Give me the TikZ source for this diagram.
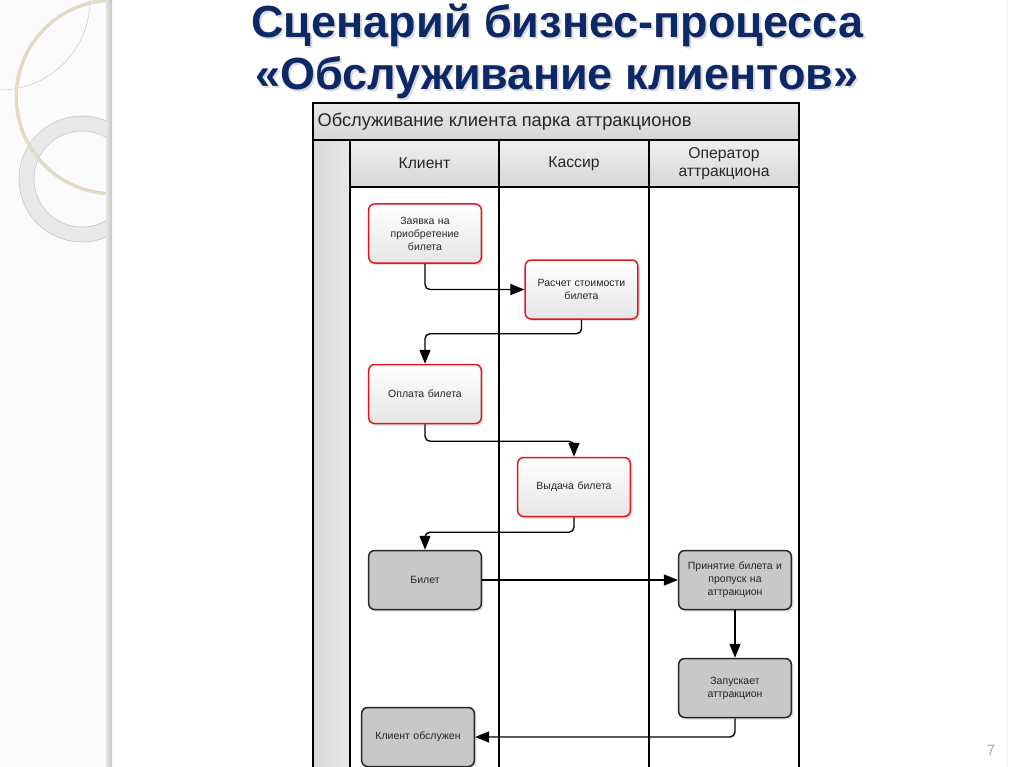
\documentclass[tikz,border=0pt]{standalone}
\usepackage{fontspec}
\setmainfont{Liberation Sans}
\usetikzlibrary{arrows.meta,shadows}
\definecolor{titleblue}{HTML}{0D2866}
\definecolor{boxred}{HTML}{E3161E}
\definecolor{beige}{HTML}{E6DCC2}
\definecolor{graybox}{HTML}{C8C8C8}
\begin{document}
\begin{tikzpicture}[x=1pt,y=-1pt,
  basebox/.style={rounded corners=6pt, line width=1.5pt, minimum width=112pt, minimum height=59pt,
    align=center, text width=106pt, font=\fontsize{10.5}{13}\selectfont, text=black!85,
    drop shadow={shadow xshift=2pt, shadow yshift=-2pt, opacity=0.25}},
  redbox/.style={basebox, draw=boxred, top color=white, bottom color=gray!20},
  grbox/.style={basebox, draw=black!85, fill=graybox},
  flow/.style={line width=1.4pt, rounded corners=5pt, -{Triangle[length=14pt,width=11pt]}},
  lane/.style={line width=1.4pt},
  hdr/.style={font=\fontsize{15.7}{18}\selectfont, text=black!85, align=center},
  ttl/.style={font=\fontsize{45}{52}\bfseries\selectfont, anchor=base}
]
\useasboundingbox (0,0) rectangle (1024,767);
\clip (0,0) rectangle (1024,767);
\fill[white] (0,0) rectangle (1024,767);
% left decoration
\begin{scope}
\clip (0,0) rectangle (108,767);
\fill[gray!3] (0,0) rectangle (108,767);
\draw[beige!80!gray, line width=0.5pt] (0,0) circle[radius=90];
\fill[gray!18, even odd rule] (82,179) circle[radius=63] (82,179) circle[radius=48];
\draw[gray!45, line width=0.6pt] (82,179) circle[radius=63] (82,179) circle[radius=48];
\draw[beige, line width=3pt] (113,97) circle[radius=97];
\draw[gray!40, line width=0.5pt] (113,97) circle[radius=95.5];
\end{scope}
\shade[left color=gray!20, right color=gray!45] (106,0) rectangle (112,767);
\draw[gray!12, line width=0.6pt] (1007,0) -- (1007,767);
% title
\node[ttl, text=gray!55, opacity=0.5] at (559.5,39.5) {Сценарий бизнес-процесса};
\node[ttl, text=gray!55, opacity=0.5] at (559,91.5) {«Обслуживание клиентов»};
\node[ttl, text=titleblue] (t1) at (557.5,37.5) {Сценарий бизнес-процесса};
\node[ttl, text=titleblue] (t2) at (557,89.5) {«Обслуживание клиентов»};
\node[text=gray!70, font=\fontsize{15}{16}\selectfont] (pg) at (991,750) {7};
% pool
\shade[top color=gray!18, bottom color=gray!32] (313,103) rectangle (799,140);
\shade[left color=gray!32, right color=gray!18] (313,140) rectangle (350,767);
\shade[top color=gray!12, bottom color=gray!32] (350,140) rectangle (799,187);
\draw[lane] (313,767) -- (313,103) -- (799,103) -- (799,767);
\draw[lane] (313,140) -- (799,140);
\draw[lane] (350,187) -- (799,187);
\draw[lane] (350,140) -- (350,767);
\draw[lane] (499,140) -- (499,767);
\draw[lane] (649,140) -- (649,767);
\node[hdr, anchor=west, font=\fontsize{18.3}{20}\selectfont] (pool) at (314,121.5) {Обслуживание клиента парка аттракционов};
\node[hdr] (h1) at (424.5,163.5) {Клиент};
\node[hdr] (h2) at (574,163.5) {Кассир};
\node[hdr] (h3) at (724,163.5) {Оператор\\аттракциона};
% boxes
\node[redbox] (n1) at (425,233.5) {Заявка на\\приобретение\\билета};
\node[redbox] (n2) at (581.5,289.5) {Расчет стоимости\\билета};
\node[redbox] (n3) at (425,394) {Оплата билета};
\node[redbox] (n4) at (574,487) {Выдача билета};
\node[grbox] (n5) at (425,580) {Билет};
\node[grbox] (n6) at (735,580) {Принятие билета и\\пропуск на\\аттракцион};
\node[grbox] (n7) at (735,688) {Запускает\\аттракцион};
\node[grbox] (n8) at (418,737) {Клиент обслужен};
% connectors
\draw[flow] (n1.south) |- (n2.west);
\draw[flow] (n2.south) -- ++(0,14) -| (n3.north);
\draw[flow] (n3.south) -- ++(0,17) -| (n4.north);
\draw[flow] (n4.south) -- ++(0,15) -| (n5.north);
\draw[flow] (n5.east) -- (n6.west);
\draw[flow] (n6.south) -- (n7.north);
\draw[flow] (n7.south) |- (n8.east);
\end{tikzpicture}
\end{document}
